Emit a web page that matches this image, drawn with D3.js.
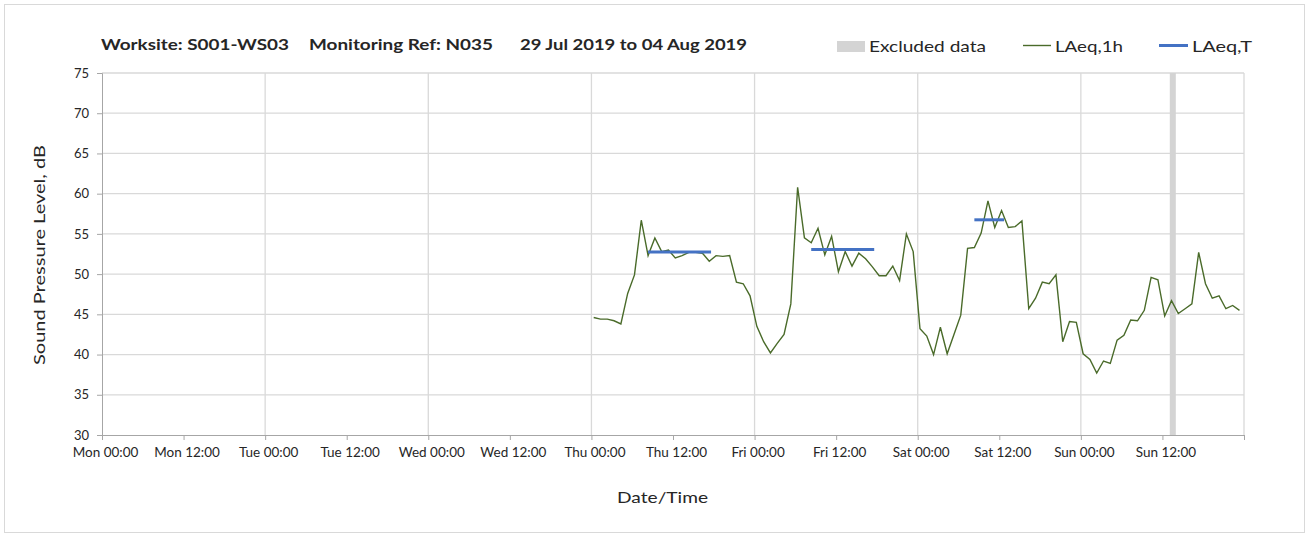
<!DOCTYPE html>
<html><head><meta charset="utf-8">
<script src="https://cdn.jsdelivr.net/npm/d3@7"></script>
<style>
body{margin:0;background:#fff;}
text{font-family:Lato,"Open Sans",sans-serif;fill:#262626;}
</style></head>
<body><svg id="c" width="1309" height="537"></svg>
<script>
// ---- data ----
const titleParts = ["Worksite: S001-WS03", "Monitoring Ref: N035", "29 Jul 2019 to 04 Aug 2019"];
const yTicks = [30, 35, 40, 45, 50, 55, 60, 65, 70, 75];
const laeq1hStart = "2019-08-01T00:20:00Z";
const laeq1h = [44.6,44.4,44.4,44.2,43.8,47.6,49.9,56.7,52.3,54.5,52.8,53.0,52.0,52.3,52.7,52.7,52.6,51.6,52.3,52.2,52.3,49.0,48.8,47.3,
  43.5,41.6,40.2,41.4,42.5,46.3,60.8,54.5,53.9,55.7,52.4,54.7,50.3,52.8,51.0,52.6,51.9,50.9,49.8,49.8,51.0,49.2,55.0,52.8,
  43.2,42.3,40.0,43.4,40.1,42.5,44.9,53.2,53.3,55.1,59.1,55.8,57.9,55.8,55.9,56.6,45.7,47.0,49.0,48.8,49.9,41.6,44.1,44.0,
  40.1,39.4,37.7,39.2,38.9,41.8,42.4,44.3,44.2,45.5,49.6,49.3,44.8,46.7,45.1,45.7,46.3,52.7,48.8,47.0,47.3,45.7,46.1,45.5];
const laeqTStart = ["2019-08-01T08:20:00Z","2019-08-02T08:20:00Z","2019-08-03T08:20:00Z"];
const laeqTEnd   = ["2019-08-01T17:36:00Z","2019-08-02T17:36:00Z","2019-08-03T12:42:00Z"];
const laeqTValue = [52.75, 53.05, 56.75];
const excludedStart = ["2019-08-04T13:05:00Z"];
const excludedEnd   = ["2019-08-04T13:58:00Z"];
const legendLabels = ["Excluded data", "LAeq,1h", "LAeq,T"];
const xTitle = "Date/Time";
const yTitle = "Sound Pressure Level, dB";

// ---- layout ----
const svg = d3.select("#c");
const L = 102, R = 1244, T = 73, B = 435;
const x = d3.scaleUtc().domain([new Date("2019-07-29T00:00:00Z"), new Date("2019-08-05T00:00:00Z")]).range([L, R]);
const y = d3.scaleLinear().domain([30, 75]).range([B, T]);
const grid = "#d9d9d9", axisCol = "#a6a6a6";

// outer border
svg.append("rect").attr("x",4.5).attr("y",4.5).attr("width",1300).attr("height",528)
  .attr("fill","none").attr("stroke","#d9d9d9");

// horizontal grid
svg.append("g").selectAll("line").data(yTicks.filter(v=>v>30)).join("line")
  .attr("x1",L).attr("x2",R).attr("y1",d=>y(d)).attr("y2",d=>y(d))
  .attr("stroke",grid).attr("stroke-width",1.3);
// vertical day grid
const days = d3.utcDay.range(new Date("2019-07-30T00:00:00Z"), new Date("2019-08-05T00:00:01Z"));
svg.append("g").selectAll("line").data(days).join("line")
  .attr("x1",d=>x(d)).attr("x2",d=>x(d)).attr("y1",T).attr("y2",B)
  .attr("stroke",grid).attr("stroke-width",1.3);

// excluded band
svg.append("g").selectAll("rect").data(excludedStart).join("rect")
  .attr("x",(d)=>x(new Date(d))).attr("width",(d,i)=>x(new Date(excludedEnd[i]))-x(new Date(d)))
  .attr("y",T).attr("height",B-T).attr("fill","#d4d4d4");

// y axis
const ya = svg.append("g").attr("transform",`translate(${L},0)`)
  .call(d3.axisLeft(y).tickValues(yTicks).tickSize(5).tickPadding(8));
ya.select(".domain").attr("stroke",axisCol);
ya.selectAll(".tick line").attr("stroke",axisCol);
ya.selectAll("text").style("font-size","13px").attr("fill","#262626");

// x axis
const xTickVals = d3.utcHour.every(12).range(new Date("2019-07-29T00:00:00Z"), new Date("2019-08-05T00:00:01Z"));
const xa = svg.append("g").attr("transform",`translate(0,${B})`)
  .call(d3.axisBottom(x).tickValues(xTickVals).tickSize(5).tickPadding(7)
    .tickFormat(d => d.getTime() === x.domain()[1].getTime() ? "" : d3.utcFormat("%a %H:%M")(d)));
xa.select(".domain").attr("stroke",axisCol);
xa.selectAll(".tick line").attr("stroke",axisCol);
xa.selectAll("text").style("font-size","13.5px").attr("fill","#262626").attr("dx","3");

// LAeq,1h line
const t0 = new Date(laeq1hStart).getTime();
const pts = laeq1h.map((v,i)=>({t:new Date(t0 + i*3600e3), v}));
svg.append("path").datum(pts)
  .attr("d", d3.line().x(d=>x(d.t)).y(d=>y(d.v)))
  .attr("fill","none").attr("stroke","#4a6b2a").attr("stroke-width",1.4);

// LAeq,T segments
svg.append("g").selectAll("line").data(laeqTValue).join("line")
  .attr("x1",(d,i)=>x(new Date(laeqTStart[i]))).attr("x2",(d,i)=>x(new Date(laeqTEnd[i])))
  .attr("y1",d=>y(d)).attr("y2",d=>y(d))
  .attr("stroke","#4472c4").attr("stroke-width",3);

// title
const titleX = [101, 309, 520], titleW = [188, 184, 227];
svg.append("g").selectAll("text").data(titleParts).join("text")
  .attr("x",(d,i)=>titleX[i]).attr("y",50).text(d=>d)
  .style("font-size","16px").style("font-weight","bold").attr("fill","#000")
  .attr("textLength",(d,i)=>titleW[i]).attr("lengthAdjust","spacingAndGlyphs");

// legend
const lg = svg.append("g");
lg.append("rect").attr("x",837).attr("y",41).attr("width",28).attr("height",11).attr("fill","#d4d4d4");
lg.append("line").attr("x1",1023).attr("x2",1051).attr("y1",45.5).attr("y2",45.5).attr("stroke","#4a6b2a").attr("stroke-width",1.4);
lg.append("line").attr("x1",1159).attr("x2",1188).attr("y1",45.5).attr("y2",45.5).attr("stroke","#4472c4").attr("stroke-width",3);
const lgX = [869, 1055, 1192], lgW = [117, 68, 60];
lg.selectAll("text").data(legendLabels).join("text")
  .attr("x",(d,i)=>lgX[i]).attr("y",52).text(d=>d)
  .style("font-size","16px").attr("fill","#262626")
  .attr("textLength",(d,i)=>lgW[i]).attr("lengthAdjust","spacingAndGlyphs");

// axis titles
svg.append("text").attr("x",617).attr("y",503)
  .style("font-size","16px").attr("textLength",91).attr("lengthAdjust","spacingAndGlyphs").text(xTitle);
svg.append("text").attr("transform",`translate(45,365) rotate(-90)`)
  .style("font-size","16px").attr("textLength",220).attr("lengthAdjust","spacingAndGlyphs").text(yTitle);
</script></body></html>
